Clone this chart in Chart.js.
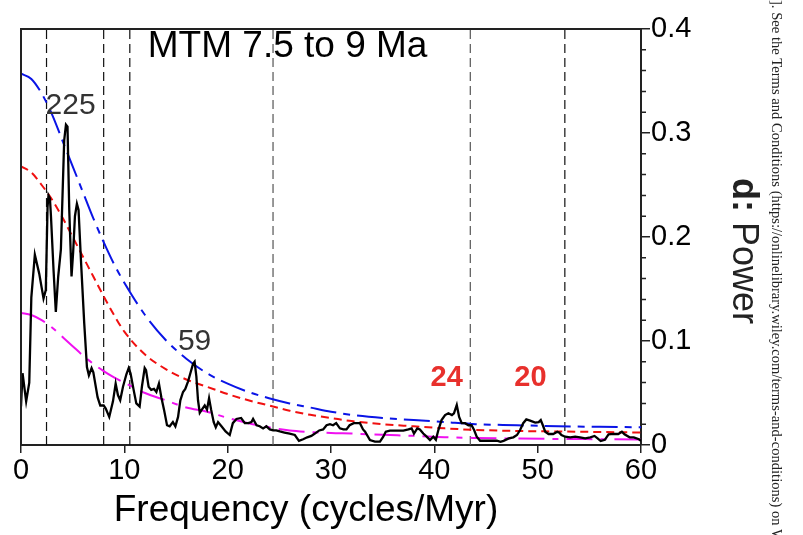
<!DOCTYPE html>
<html>
<head>
<meta charset="utf-8">
<script src="https://cdn.jsdelivr.net/npm/chart.js@4.4.1/dist/chart.umd.min.js"></script>
<style>
  html, body { margin: 0; padding: 0; background: #fff; }
  #wrap { width: 803px; height: 535px; }
</style>
</head>
<body>
<div id="wrap"><canvas id="mtmChart" width="803" height="535"></canvas></div>
<script>
// MTM power spectrum, 7.5 to 9 Ma
const specFreq = [
  0.0, 0.15, 0.5, 0.8, 1.0, 1.34, 1.76, 2.18, 2.4, 2.57, 2.66, 2.8, 2.9, 3.15, 3.37, 3.6, 3.86,
  4.18, 4.35, 4.5, 4.67, 4.89, 5.05, 5.22, 5.41, 5.57, 5.8, 6.12, 6.38, 6.57, 6.83, 7.0, 7.41,
  7.67, 8.0, 8.2, 8.54, 8.9, 9.16, 9.38, 9.6, 9.87, 10.2, 10.42, 10.6, 10.9, 11.16, 11.48, 11.7,
  11.97, 12.1, 12.35, 12.6, 12.87, 13.1, 13.35, 13.58, 13.84, 14.13, 14.39, 14.7, 14.94, 15.2,
  15.42, 15.68, 15.9, 16.16, 16.39, 16.65, 16.8, 16.97, 17.13, 17.3, 17.5, 17.78, 18.0, 18.2,
  18.4, 18.65, 18.85, 19.07, 19.4, 19.8, 20.2, 20.5, 20.85, 21.3, 21.66, 22.0, 22.3, 22.46, 22.8,
  23.1, 23.43, 23.75, 24.08, 24.4, 24.7, 25.05, 25.5, 26.0, 26.5, 26.9, 27.3, 27.7, 28.1, 28.44,
  28.86, 29.24, 29.57, 29.9, 30.2, 30.5, 30.86, 31.2, 31.5, 31.8, 32.2, 32.5, 32.8, 33.1, 33.3,
  33.77, 34.25, 34.74, 35.06, 35.3, 35.7, 36.36, 37.0, 37.5, 37.8, 38.03, 38.35, 38.6, 38.93,
  39.26, 39.58, 39.9, 40.15, 40.39, 40.7, 41.04, 41.36, 41.7, 41.9, 42.17, 42.4, 42.65, 42.97,
  43.3, 43.6, 43.85, 44.1, 44.43, 45.1, 45.7, 46.05, 46.4, 46.7, 47.2, 47.65, 48.0, 48.3, 48.6,
  48.9, 49.27, 49.76, 50.1, 50.3, 50.5, 50.73, 51.05, 51.5, 51.9, 52.1, 52.3, 52.66, 53.15,
  53.63, 54.1, 54.6, 55.1, 55.5, 55.8, 56.1, 56.5, 56.86, 57.35, 57.8, 58.15, 58.4, 58.9, 59.3,
  59.8, 60.0
];
const specPower = [
  0.037, 0.069, 0.042, 0.060, 0.142, 0.183, 0.165, 0.141, 0.149, 0.229, 0.240, 0.237, 0.220, 0.168, 0.128, 0.162, 0.188,
  0.293, 0.308, 0.306, 0.226, 0.162, 0.186, 0.220, 0.232, 0.226, 0.178, 0.117, 0.075, 0.067, 0.074, 0.070, 0.046,
  0.038, 0.038, 0.035, 0.027, 0.042, 0.059, 0.048, 0.043, 0.056, 0.068, 0.074, 0.069, 0.053, 0.040, 0.037, 0.056,
  0.074, 0.072, 0.056, 0.053, 0.054, 0.051, 0.059, 0.046, 0.034, 0.019, 0.018, 0.022, 0.018, 0.027,
  0.043, 0.051, 0.054, 0.061, 0.069, 0.078, 0.080, 0.066, 0.043, 0.031, 0.034, 0.038, 0.034, 0.045,
  0.034, 0.022, 0.017, 0.022, 0.018, 0.013, 0.0096, 0.021, 0.025, 0.026, 0.021, 0.021, 0.022, 0.025, 0.019,
  0.018, 0.016, 0.018, 0.015, 0.014, 0.014, 0.013, 0.012, 0.011, 0.0096, 0.004, 0.0055, 0.0074, 0.0087, 0.011,
  0.014, 0.015, 0.019, 0.020, 0.019, 0.021, 0.016, 0.015, 0.015, 0.019, 0.021, 0.021, 0.021, 0.015, 0.0128,
  0.0048, 0.0032, 0.0032, 0.008, 0.0128, 0.0138, 0.0138, 0.0138, 0.015, 0.016, 0.011, 0.016, 0.015, 0.011,
  0.008, 0.0048, 0.008, 0.005, 0.0144, 0.024, 0.0288, 0.0305, 0.0288, 0.0305, 0.0385, 0.027, 0.021, 0.021,
  0.019, 0.019, 0.0144, 0.008, 0.0041, 0.0041, 0.0041, 0.0041, 0.003, 0.004, 0.0064, 0.0074, 0.0096, 0.0144, 0.021,
  0.0246, 0.0234, 0.0215, 0.022, 0.024, 0.019, 0.0128, 0.0106, 0.0106, 0.0128, 0.0119, 0.0096, 0.008, 0.0074,
  0.008, 0.0074, 0.0064, 0.0074, 0.0087, 0.0064, 0.0038, 0.005, 0.0103, 0.0106, 0.0106, 0.0128, 0.0103, 0.0074, 0.0074,
  0.0055, 0.004
];

// AR(1) red-noise background: median, 95% and 99% levels
const ar1Freq = [0, 1, 2, 3, 4, 5, 6, 7, 8, 9, 10, 12, 14, 16, 18, 20, 22, 24, 26, 28, 30, 32, 35, 38, 41, 44, 48, 52, 56, 60];
const ar1Conf99 = [0.357, 0.352, 0.338, 0.318, 0.293, 0.268, 0.243, 0.218, 0.195, 0.174, 0.156, 0.125, 0.101, 0.083, 0.069,
  0.059, 0.051, 0.045, 0.040, 0.036, 0.032, 0.029, 0.026, 0.024, 0.022, 0.020, 0.019, 0.018, 0.0175, 0.017];
const ar1Conf95 = [0.268, 0.262, 0.250, 0.236, 0.219, 0.200, 0.181, 0.162, 0.143, 0.125, 0.109, 0.087, 0.073, 0.063, 0.056,
  0.049, 0.043, 0.038, 0.033, 0.029, 0.026, 0.023, 0.020, 0.018, 0.016, 0.0145, 0.0135, 0.013, 0.0125, 0.012];
const ar1Median = [0.127, 0.125, 0.120, 0.113, 0.104, 0.095, 0.086, 0.078, 0.071, 0.065, 0.060, 0.050, 0.043, 0.036, 0.032,
  0.026, 0.021, 0.017, 0.0140, 0.0125, 0.0115, 0.011, 0.0098, 0.0088, 0.0075, 0.0068, 0.0062, 0.0058, 0.0056, 0.0054];

// orbital frequencies (405, 125, 95, 41, 23, 19 kyr)
const orbitalFreq = [2.47, 8.0, 10.53, 24.39, 43.48, 52.63];
const orbitalGray = [false, false, false, true, true, false];

const xTicks = [0, 10, 20, 30, 40, 50, 60];
const yTicks = [0, 0.1, 0.2, 0.3, 0.4];
const yMinorTicks = [0.02, 0.04, 0.06, 0.08, 0.12, 0.14, 0.16, 0.18, 0.22, 0.24, 0.26, 0.28, 0.32, 0.34, 0.36, 0.38];

// peak labels (periods in kyr)
const peakNames = ['225', '59', '24', '20'];
const peakFreq = [4.8, 16.8, 41.2, 49.3];
const peakPower = [0.326, 0.099, 0.064, 0.064];

const chartTitle = 'MTM 7.5 to 9 Ma';
const xTitle = 'Frequency (cycles/Myr)';
const sideTitleBold = 'd:';
const sideTitle = ' Power';
const sourceNote = ']. See the Terms and Conditions (https://onlinelibrary.wiley.com/terms-and-conditions) on Wiley Online Library for rules of use';

const SANS = '"Liberation Sans", Arial, sans-serif';
const TICK_FONT = '"Liberation Sans Narrow", "Liberation Sans", Arial, sans-serif';

function pairs(xs, ys) {
  return xs.map((x, i) => ({ x: x, y: ys[i] }));
}

const datasets = [
  { label: 'MTM', data: pairs(specFreq, specPower), borderColor: '#000', borderWidth: 2.3, order: 0 },
  { label: '99%', data: pairs(ar1Freq, ar1Conf99), borderColor: '#0a14e6', borderWidth: 2, borderDash: [26, 7, 7, 7], order: 1, cubicInterpolationMode: 'monotone' },
  { label: '95%', data: pairs(ar1Freq, ar1Conf95), borderColor: '#f01010', borderWidth: 2, borderDash: [8, 5], order: 1, cubicInterpolationMode: 'monotone' },
  { label: 'median', data: pairs(ar1Freq, ar1Median), borderColor: '#f010f0', borderWidth: 2, borderDash: [26, 8, 6, 8], order: 1, cubicInterpolationMode: 'monotone' }
];
orbitalFreq.forEach((f, i) => {
  datasets.push({
    label: 'orbit' + i,
    data: [{ x: f, y: 0 }, { x: f, y: 0.4 }],
    borderColor: orbitalGray[i] ? '#555' : '#111',
    borderWidth: 1.2,
    borderDash: [9, 5],
    order: 2
  });
});

const decorations = {
  id: 'decorations',
  afterDraw(chart) {
    const ctx = chart.ctx;
    const area = chart.chartArea;
    const xs = chart.scales.x;
    const ys = chart.scales.y;
    ctx.save();
    // frame: left and top
    ctx.strokeStyle = '#222';
    ctx.lineWidth = 2;
    ctx.beginPath();
    ctx.moveTo(area.left, area.bottom);
    ctx.lineTo(area.left, area.top);
    ctx.lineTo(area.right, area.top);
    ctx.stroke();
    // minor ticks on the power axis
    ctx.lineWidth = 1.5;
    ctx.beginPath();
    yMinorTicks.forEach(v => {
      const py = ys.getPixelForValue(v);
      ctx.moveTo(area.right - 1, py);
      ctx.lineTo(area.right + 5, py);
    });
    ctx.stroke();

    ctx.textAlign = 'center';
    ctx.textBaseline = 'middle';
    // title inside the plot
    ctx.fillStyle = '#000';
    ctx.font = '37px ' + SANS;
    ctx.fillText(chartTitle, xs.getPixelForValue(25.8), ys.getPixelForValue(0.383));
    // peak labels
    peakNames.forEach((name, i) => {
      const red = i >= 2;
      ctx.fillStyle = red ? '#e8302c' : '#333';
      ctx.font = (red ? 'bold 29px ' : '30px ') + SANS;
      ctx.fillText(name, xs.getPixelForValue(peakFreq[i]), ys.getPixelForValue(peakPower[i]));
    });
    // x axis title
    ctx.fillStyle = '#000';
    ctx.font = '37px ' + SANS;
    ctx.fillText(xTitle, 306, 511);

    // side title, rotated
    ctx.save();
    ctx.translate(743, 251);
    ctx.rotate(Math.PI / 2);
    ctx.textAlign = 'left';
    ctx.font = 'bold 36px ' + SANS;
    const w1 = ctx.measureText(sideTitleBold).width;
    ctx.font = '36px ' + SANS;
    const w2 = ctx.measureText(sideTitle).width;
    let x0 = -(w1 + w2) / 2;
    ctx.fillStyle = '#222';
    ctx.font = 'bold 36px ' + SANS;
    ctx.fillText(sideTitleBold, x0, 0);
    ctx.font = '36px ' + SANS;
    ctx.fillText(sideTitle, x0 + w1, 0);
    ctx.restore();

    // source note along the right edge
    ctx.save();
    ctx.translate(776, 0);
    ctx.rotate(Math.PI / 2);
    ctx.textAlign = 'left';
    ctx.fillStyle = '#222';
    ctx.font = '14.6px "Liberation Serif", "Times New Roman", serif';
    ctx.fillText(sourceNote, 0, 0);
    ctx.restore();

    ctx.restore();
  }
};

new Chart(document.getElementById('mtmChart').getContext('2d'), {
  type: 'line',
  data: { datasets: datasets },
  options: {
    responsive: false,
    animation: false,
    parsing: true,
    elements: { point: { radius: 0 }, line: { tension: 0, fill: false } },
    layout: { padding: { left: 21, top: 29, right: 0, bottom: 0 } },
    plugins: { legend: { display: false }, tooltip: { enabled: false } },
    scales: {
      x: {
        type: 'linear',
        min: 0,
        max: 60,
        afterBuildTicks: s => { s.ticks = xTicks.map(v => ({ value: v })); },
        afterFit: s => { s.height = 90; },
        ticks: { color: '#000', font: { family: TICK_FONT, size: 29 }, padding: 1, maxRotation: 0, autoSkip: false },
        grid: { drawOnChartArea: false, drawTicks: true, tickLength: 8, color: '#222', lineWidth: 1.5 },
        border: { display: true, color: '#222', width: 2 }
      },
      y: {
        type: 'linear',
        position: 'right',
        min: 0,
        max: 0.4,
        afterBuildTicks: s => { s.ticks = yTicks.map(v => ({ value: v })); },
        afterFit: s => { s.width = 162; },
        ticks: {
          color: '#000',
          font: { family: TICK_FONT, size: 29 },
          padding: 1,
          callback: v => (v === 0 ? '0' : v.toFixed(1))
        },
        grid: { drawOnChartArea: false, drawTicks: true, tickLength: 9, color: '#222', lineWidth: 1.5 },
        border: { display: true, color: '#222', width: 2 }
      }
    }
  },
  plugins: [decorations]
});
</script>
</body>
</html>
